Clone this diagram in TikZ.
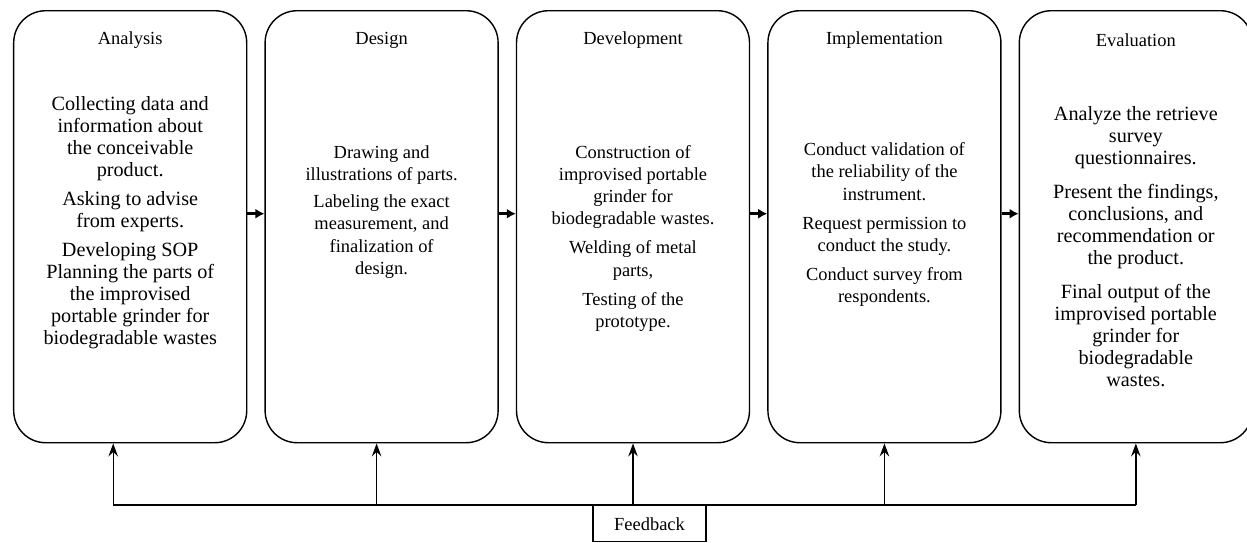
\documentclass[tikz,border=0pt]{standalone}
\usepackage{fontspec}
\setmainfont{Liberation Serif}
\usetikzlibrary{arrows.meta, positioning}

\begin{document}
\begin{tikzpicture}[
    node distance=0.34cm,
    phase/.style={draw, thick, rounded corners=0.64cm, minimum width=4.66cm, minimum height=8.64cm},
    title/.style={font=\fontsize{10.5}{13}\selectfont},
    body/.style={font=\fontsize{10.5}{12.6}\selectfont, align=center, anchor=north, inner sep=0pt},
    bodylarge/.style={body, font=\fontsize{11.5}{12.5}\selectfont},
    arrow/.style={-{Latex[length=1.8mm, width=2mm]}, line width=1.4pt},
    fbarrow/.style={-{Stealth[length=2.6mm, width=1.9mm, inset=0.9mm]}, thick},
]
\useasboundingbox (0,0) rectangle (24.94,-10.84);
% the five phases
\node[phase, anchor=north west] (analysis) at (0.26,-0.2) {};
\node[phase, right=of analysis] (design) {};
\node[phase, right=of design] (development) {};
\node[phase, right=of development] (implementation) {};
\node[phase, right=of implementation] (evaluation) {};
% titles
\node[title] (analysistitle) at ([yshift=-0.6cm]analysis.north) {Analysis};
\node[title] (designtitle) at ([yshift=-0.6cm]design.north) {Design};
\node[title] (developmenttitle) at ([yshift=-0.6cm]development.north) {Development};
\node[title] (implementationtitle) at ([yshift=-0.6cm]implementation.north) {Implementation};
\node[title] (evaluationtitle) at ([yshift=-0.6cm]evaluation.north) {Evaluation};
% contents
\node[bodylarge] (analysistext) at ([yshift=-1.72cm]analysis.north) {Collecting data and\\information about\\the conceivable\\product.\\[4pt]
    Asking to advise\\from experts.\\[4pt]
    Developing SOP\\Planning the parts of\\the improvised\\portable grinder for\\biodegradable wastes};
\node[body] (designtext) at ([yshift=-2.7cm]design.north) {Drawing and\\illustrations of parts.\\[3pt]
    Labeling the exact\\measurement, and\\finalization of\\design.};
\node[body] (developmenttext) at ([yshift=-2.7cm]development.north) {Construction of\\improvised portable\\grinder for\\biodegradable wastes.\\[4pt]
    Welding of metal\\parts,\\[4pt]
    Testing of the\\prototype.};
\node[body] (implementationtext) at ([yshift=-2.65cm]implementation.north) {Conduct validation of\\the reliability of the\\instrument.\\[4pt]
    Request permission to\\conduct the study.\\[4pt]
    Conduct survey from\\respondents.};
\node[bodylarge] (evaluationtext) at ([yshift=-1.92cm]evaluation.north) {Analyze the retrieve\\survey\\questionnaires.\\[7pt]
    Present the findings,\\conclusions, and\\recommendation or\\the product.\\[7pt]
    Final output of the\\improvised portable\\grinder for\\biodegradable\\wastes.};
% forward arrows
\draw[arrow] ([yshift=0.26cm]analysis.east) -- ([yshift=0.26cm]design.west);
\draw[arrow] ([yshift=0.26cm]design.east) -- ([yshift=0.26cm]development.west);
\draw[arrow] ([yshift=0.26cm]development.east) -- ([yshift=0.26cm]implementation.west);
\draw[arrow] ([yshift=0.26cm]implementation.east) -- ([yshift=0.26cm]evaluation.west);
% feedback loop
\node[draw, thick, minimum width=2.26cm, minimum height=0.72cm, anchor=north, title] (feedback) at (12.99,-10.1) {Feedback};
\coordinate (fbstart) at ([xshift=-0.34cm]analysis.south |- feedback.north);
\draw[thick] (fbstart) -- (evaluation.south |- feedback.north);
\draw[fbarrow] (fbstart) -- ([xshift=-0.34cm]analysis.south);
\draw[fbarrow] ([xshift=-0.1cm]design.south |- feedback.north) -- ([xshift=-0.1cm]design.south);
\foreach \p in {development,implementation,evaluation}
    \draw[fbarrow] (\p.south |- feedback.north) -- (\p.south);
\end{tikzpicture}
\end{document}
